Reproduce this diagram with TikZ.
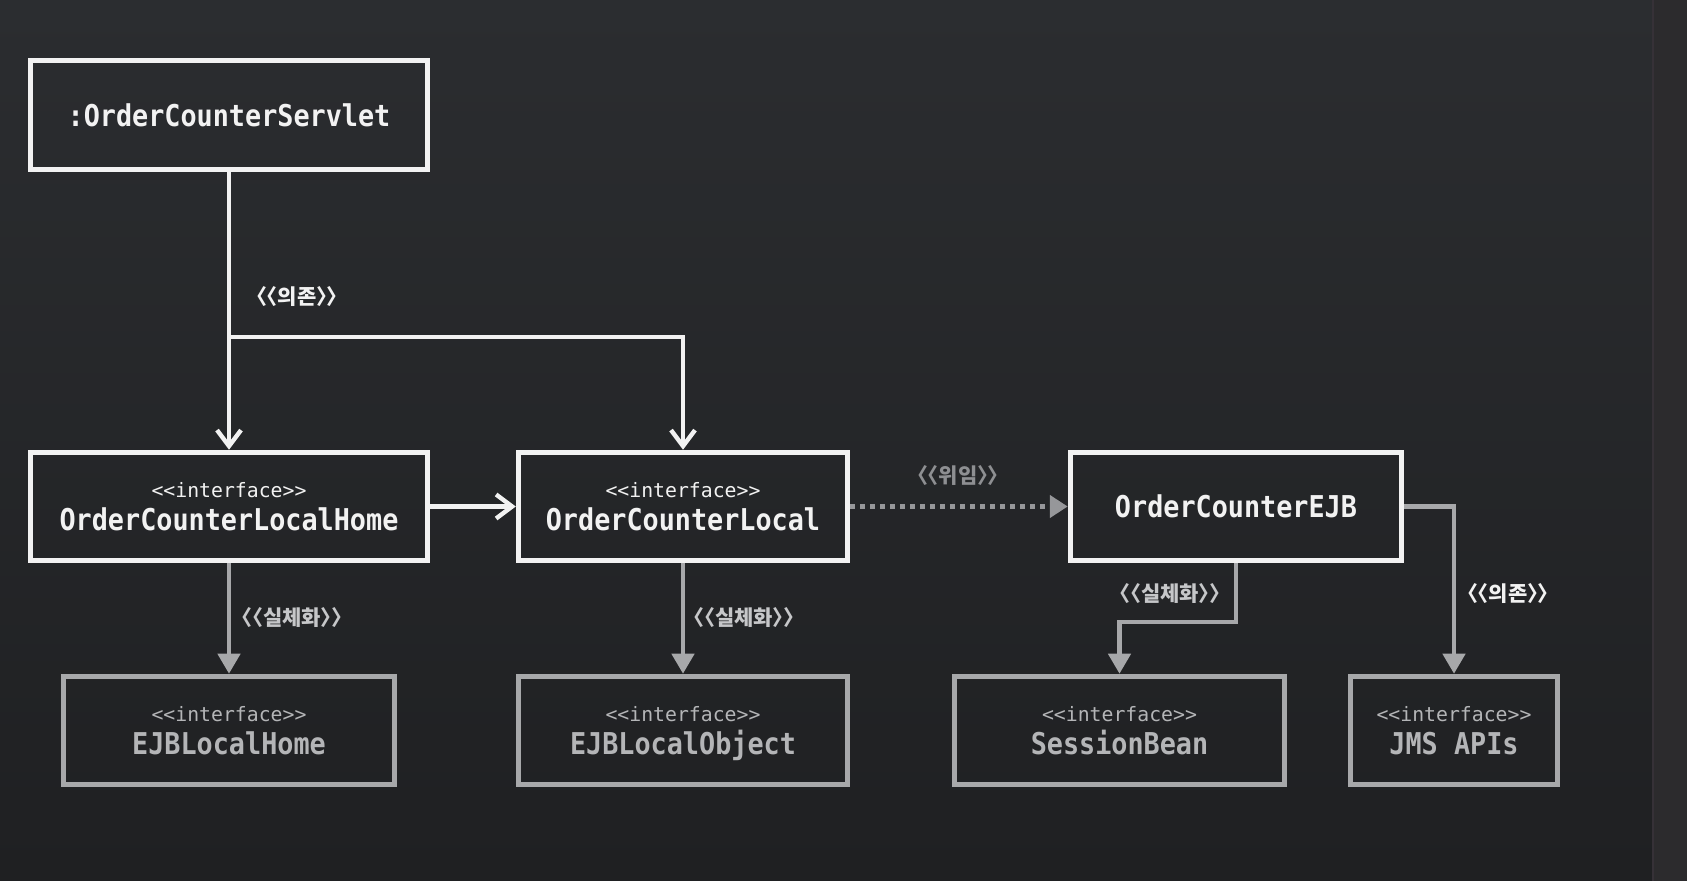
\documentclass[tikz,border=0pt]{standalone}
\usepackage{fontspec}
\usetikzlibrary{arrows.meta}
\newfontfamily\monof{DejaVu Sans Mono}
\newfontfamily\krf{Noto Sans CJK KR}[CharacterWidth=AlternateHalf]
\definecolor{bgtop}{HTML}{2B2D30}
\definecolor{bgbot}{HTML}{1F2022}
\definecolor{stripc}{HTML}{2C2B2D}
\definecolor{divc}{HTML}{363137}
\definecolor{wline}{HTML}{F2F2F2}
\definecolor{gline}{HTML}{A7A8AA}
\definecolor{gtext}{HTML}{B4B5B7}
\definecolor{dotc}{HTML}{96979A}
\definecolor{lblg}{HTML}{C6C7C9}
\definecolor{lbld}{HTML}{8E8F92}
\tikzset{
  boxbase/.style={line width=2.5pt, inner sep=0pt, align=center,
    minimum height=54.25pt, font=\monof\fontsize{9.9}{16.5}\selectfont},
  topbox/.style={boxbase, draw=wline, text=wline},
  botbox/.style={boxbase, draw=gline, text=gtext},
  dep/.style={draw=wline, line width=2.2pt,
    -{Straight Barb[length=8pt,width=12pt,line width=2.2pt]}},
  real/.style={draw=gline, line width=2.2pt,
    -{Triangle[length=10pt,width=11pt]}},
  deleg/.style={draw=dotc, line width=2.5pt, dash pattern=on 2.5pt off 2.5pt,
    -{Triangle[length=9pt,width=11pt]}},
  lbl/.style={font=\krf\bfseries\fontsize{10.5}{12}\selectfont, inner sep=0pt},
}
\newcommand{\nm}[1]{{\bfseries\fontsize{13.4}{16.5}\selectfont\raisebox{0pt}[\height][0pt]{\scalebox{1}[1.12]{#1}}}}
\newcommand{\itf}{\raisebox{0pt}[\height][0pt]{<{}<interface>{}>}}
\begin{document}
\begin{tikzpicture}[x=0.5pt,y=-0.5pt]
\useasboundingbox (0,0) rectangle (1687,881);
\fill[top color=bgtop,bottom color=bgbot] (0,0) rectangle (1653,881);
\fill[stripc] (1653,0) rectangle (1687,881);
\draw[divc,line width=1pt] (1653,0) -- (1653,881);

% top row
\node[topbox, minimum width=198.75pt, minimum height=54.75pt] (servlet) at (229,115) {\nm{:OrderCounterServlet}};
\node[topbox, minimum width=198.75pt] (lhome) at (229,506.5) {\itf\\\nm{OrderCounterLocalHome}};
\node[topbox, minimum width=164.75pt] (local) at (683,506.5) {\itf\\\nm{OrderCounterLocal}};
\node[topbox, minimum width=165.75pt] (ejb) at (1236,506.5) {\nm{OrderCounterEJB}};

% bottom row
\node[botbox, minimum width=165.75pt] (ejblh) at (229,730.5) {\itf\\\nm{EJBLocalHome}};
\node[botbox, minimum width=164.75pt] (ejblo) at (683,730.5) {\itf\\\nm{EJBLocalObject}};
\node[botbox, minimum width=165.25pt] (sbean) at (1119.5,730.5) {\itf\\\nm{SessionBean}};
\node[botbox, minimum width=103.75pt] (jms) at (1454,730.5) {\itf\\\nm{JMS APIs}};

% connectors
\coordinate (branch) at (229,337);
\draw[dep] (servlet.south) -- (lhome.north);
\draw[dep] (branch) -| (local.north);
\draw[dep] (lhome.east) -- (local.west);
\draw[deleg] (local.east) -- (ejb.west);
\draw[real] (lhome.south) -- (ejblh.north);
\draw[real] (local.south) -- (ejblo.north);
\coordinate (sbend) at (1236,622);
\draw[real] (ejb.south) -- (sbend) -| (sbean.north);
\draw[real] (ejb.east) -| (jms.north);

% labels
\node[lbl, text=wline] (l1) at (297,297) {〈〈의존〉〉};
\node[lbl, text=lbld] (l2) at (958,476) {〈〈위임〉〉};
\node[lbl, text=lblg] (l3) at (292,618) {〈〈실체화〉〉};
\node[lbl, text=lblg] (l4) at (744,618) {〈〈실체화〉〉};
\node[lbl, text=lblg] (l5) at (1170,594) {〈〈실체화〉〉};
\node[lbl, text=wline] (l6) at (1508,594) {〈〈의존〉〉};
\end{tikzpicture}
\end{document}
